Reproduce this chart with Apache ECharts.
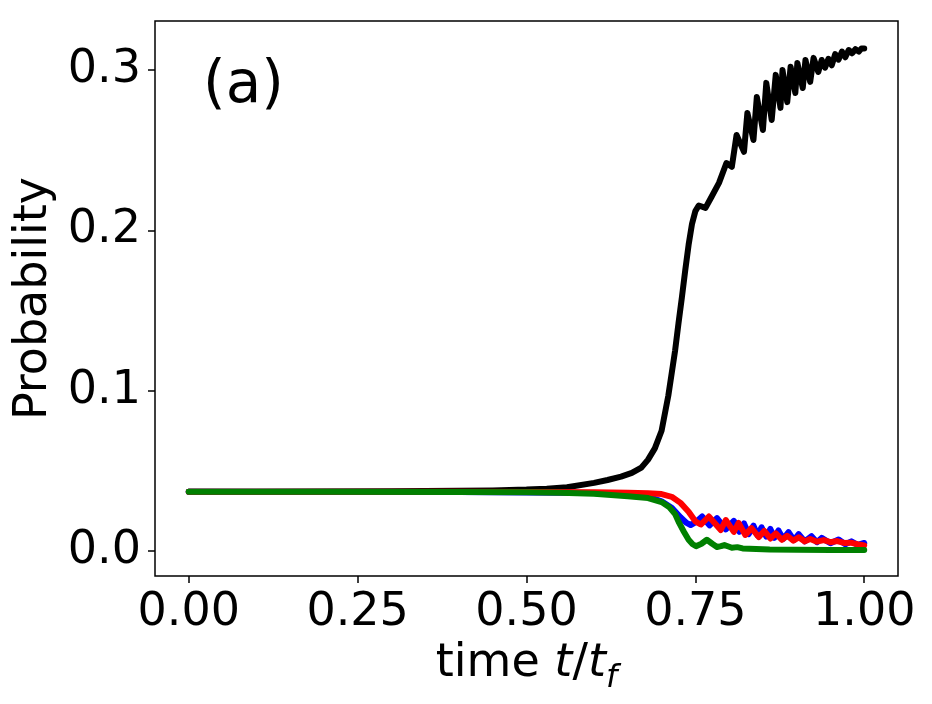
<!DOCTYPE html>
<html>
<head>
<meta charset="utf-8">
<script src="https://cdn.jsdelivr.net/npm/echarts@6/dist/echarts.min.js"></script>
<style>
  html, body { margin: 0; padding: 0; background: #fff; }
  #main { width: 932px; height: 704px; }
</style>
</head>
<body>
<div id="main"></div>
<script>
// values
var xTicks = [0, 0.25, 0.5, 0.75, 1.0];
var yTicks = [0, 0.1, 0.2, 0.3];

var blackT = [0, 0.1, 0.2, 0.3, 0.4, 0.45, 0.5, 0.53, 0.56, 0.6, 0.62, 0.64, 0.656, 0.67, 0.68, 0.69, 0.70, 0.71, 0.72, 0.725, 0.73, 0.735, 0.74, 0.745, 0.75,
  0.755, 0.765, 0.774, 0.785, 0.796, 0.804, 0.811, 0.822, 0.827, 0.836, 0.841, 0.850, 0.855, 0.863, 0.869, 0.876, 0.879, 0.886,
  0.891, 0.898, 0.901, 0.909, 0.913, 0.920, 0.925, 0.932, 0.937, 0.942, 0.947, 0.952, 0.957, 0.962, 0.967, 0.972, 0.977, 0.982,
  0.987, 0.992, 0.996, 1.0];
var blackP = [0.037, 0.037, 0.0371, 0.0372, 0.0375, 0.0378, 0.0383, 0.0389, 0.0398, 0.0425, 0.0443, 0.0464, 0.0487, 0.052, 0.057, 0.064, 0.075, 0.097, 0.125, 0.142, 0.158, 0.175, 0.191, 0.204, 0.212,
  0.2155, 0.214, 0.221, 0.2296, 0.242, 0.2396, 0.2595, 0.249, 0.2732, 0.2564, 0.2832, 0.2626, 0.292, 0.2689, 0.297, 0.2764, 0.300, 0.280,
  0.302, 0.2857, 0.3044, 0.2888, 0.3063, 0.2926, 0.3076, 0.2988, 0.3063, 0.3015, 0.307, 0.303, 0.310, 0.3065, 0.3115, 0.308, 0.3125, 0.3105,
  0.313, 0.3115, 0.3135, 0.3135];

var blueT = [0, 0.4, 0.6, 0.68, 0.70, 0.715, 0.728, 0.737, 0.743, 0.750, 0.760, 0.771, 0.782, 0.795, 0.807, 0.815, 0.822, 0.829, 0.836,
  0.842, 0.848, 0.855, 0.861, 0.867, 0.873, 0.880, 0.888, 0.896, 0.903, 0.912, 0.922, 0.930, 0.937, 0.950, 0.962, 0.972, 0.981, 0.990, 1.0];
var blueP = [0.037, 0.0368, 0.0362, 0.034, 0.031, 0.027, 0.021, 0.0175, 0.0162, 0.0178, 0.0215, 0.016, 0.0205, 0.0135, 0.0188, 0.012, 0.0172, 0.0105, 0.0158,
  0.0098, 0.0148, 0.009, 0.0138, 0.0082, 0.0128, 0.0075, 0.0118, 0.0068, 0.0105, 0.006, 0.0092, 0.0055, 0.0082, 0.0048, 0.0072, 0.0042, 0.006, 0.0038, 0.005];

var redT = [0, 0.2, 0.4, 0.5, 0.6, 0.65, 0.68, 0.70, 0.715, 0.728, 0.74, 0.75, 0.758, 0.770, 0.7876, 0.795, 0.807, 0.814, 0.824, 0.833, 0.844,
  0.852, 0.861, 0.869, 0.878, 0.886, 0.895, 0.903, 0.912, 0.92, 0.93, 0.94, 0.95, 0.96, 0.97, 0.98, 0.99, 1.0];
var redP = [0.037, 0.037, 0.0369, 0.0368, 0.0366, 0.0364, 0.036, 0.0355, 0.0338, 0.030, 0.0245, 0.0185, 0.0165, 0.0215, 0.0131, 0.0193, 0.0119, 0.0175, 0.010, 0.0143, 0.0087,
  0.0125, 0.0078, 0.011, 0.007, 0.0095, 0.0065, 0.0085, 0.006, 0.0075, 0.0058, 0.0068, 0.0055, 0.0062, 0.005, 0.0052, 0.0042, 0.0035];

var greenT = [0, 0.2, 0.4, 0.5, 0.55, 0.6, 0.65, 0.68, 0.70, 0.711, 0.72, 0.726, 0.733, 0.740, 0.746, 0.751, 0.759, 0.767, 0.775, 0.782,
  0.788, 0.793, 0.799, 0.804, 0.812, 0.82, 0.84, 0.86, 0.9, 0.95, 1.0];
var greenP = [0.037, 0.037, 0.0368, 0.0366, 0.0363, 0.0357, 0.0342, 0.033, 0.0305, 0.0275, 0.023, 0.0175, 0.012, 0.007, 0.0042, 0.003, 0.0045, 0.007, 0.0045, 0.0025,
  0.003, 0.0037, 0.0028, 0.002, 0.0024, 0.0016, 0.0013, 0.001, 0.0008, 0.0006, 0.0006];

function pairs(t, p) {
  return t.map(function (v, i) { return [v, p[i]]; });
}

var font = 'DejaVu Sans';
var chart = echarts.init(document.getElementById('main'), null, { renderer: 'canvas' });

function line(name, color, t, p, z) {
  return {
    name: name, type: 'line', data: pairs(t, p), showSymbol: false, smooth: false,
    lineStyle: { color: color, width: 6, cap: 'round', join: 'round' }, z: z, animation: false
  };
}

chart.setOption({
  animation: false,
  backgroundColor: '#fff',
  grid: {
    left: 155, right: 34, top: 21, bottom: 128, containLabel: false, outerBoundsMode: 'none',
    show: true, borderColor: '#000', borderWidth: 1.5, backgroundColor: '#fff'
  },
  xAxis: {
    type: 'value', min: -0.05, max: 1.05,
    axisLine: { show: false, onZero: false },
    splitLine: { show: false },
    axisTick: { show: true, customValues: xTicks, length: 7, lineStyle: { color: '#000', width: 1.5 } },
    axisLabel: {
      customValues: xTicks, margin: 14, color: '#000', fontFamily: font, fontSize: 46,
      formatter: function (v) { return v.toFixed(2); }
    },
    name: '{n|time }{i|t}{n|/}{i|t}{s|f}',
    nameLocation: 'middle', nameGap: 62,
    nameTextStyle: {
      rich: {
        n: { fontFamily: font, fontSize: 46, color: '#000', lineHeight: 56, verticalAlign: 'top' },
        i: { fontFamily: font, fontSize: 46, fontStyle: 'italic', color: '#000', lineHeight: 56, verticalAlign: 'top' },
        s: { fontFamily: font, fontSize: 32, fontStyle: 'italic', color: '#000', lineHeight: 56, verticalAlign: 'top', padding: [22, 0, 0, 0] }
      }
    }
  },
  yAxis: {
    type: 'value', min: -0.0156, max: 0.3306,
    axisLine: { show: false, onZero: false },
    splitLine: { show: false },
    axisTick: { show: true, customValues: yTicks, length: 7, lineStyle: { color: '#000', width: 1.5 } },
    axisLabel: {
      customValues: yTicks, margin: 14, color: '#000', fontFamily: font, fontSize: 46,
      formatter: function (v) { return v.toFixed(1); }
    },
    name: 'Probability', nameLocation: 'middle', nameGap: 98, nameRotate: 90,
    nameTextStyle: { fontFamily: font, fontSize: 46, color: '#000' }
  },
  graphic: [{
    type: 'text', left: 203, top: 58,
    style: { text: '(a)', font: '58px "DejaVu Sans"', fill: '#000' }
  }],
  series: [
    line('black', '#000000', blackT, blackP, 2),
    line('blue', '#0000ff', blueT, blueP, 3),
    line('red', '#ff0000', redT, redP, 4),
    line('green', '#008000', greenT, greenP, 5)
  ]
});
</script>
</body>
</html>
